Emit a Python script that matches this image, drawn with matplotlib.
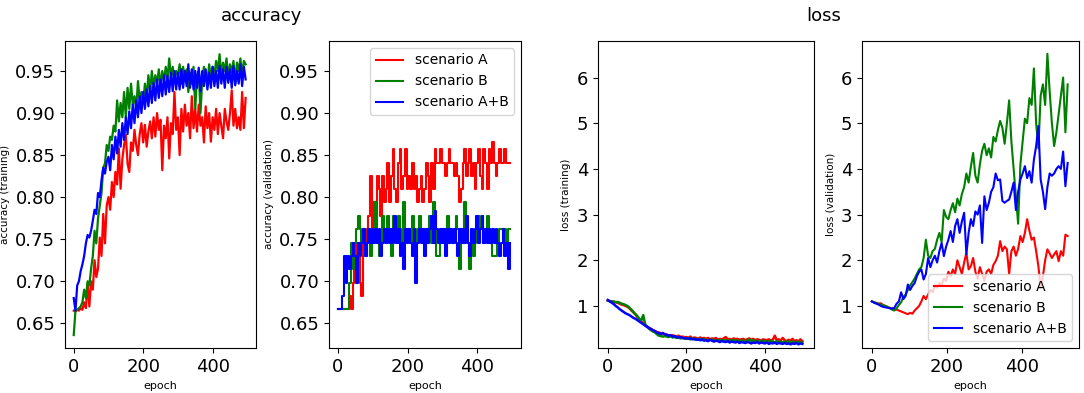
import numpy as np
import matplotlib
matplotlib.use('Agg')
import matplotlib.pyplot as plt

# Epochs (training curves logged every 5 epochs, validation loss every 6)
epochs = np.arange(0, 500, 5)
epochs_vl = np.arange(0, 527, 6)

labels = ['scenario A', 'scenario B', 'scenario A+B']
colors = ['red', 'green', 'blue']

# Accuracy (training)
acc_train_A = [0.665, 0.664, 0.666, 0.665, 0.668, 0.666, 0.675, 0.668, 0.697, 0.670,
               0.700, 0.690, 0.725, 0.705, 0.715, 0.752, 0.730, 0.780, 0.745, 0.790,
               0.800, 0.785, 0.818, 0.800, 0.830, 0.815, 0.858, 0.810, 0.845, 0.862,
               0.874, 0.840, 0.830, 0.865, 0.855, 0.880, 0.862, 0.850, 0.875, 0.888,
               0.865, 0.886, 0.860, 0.878, 0.890, 0.870, 0.895, 0.872, 0.900, 0.880,
               0.892, 0.832, 0.885, 0.870, 0.895, 0.846, 0.888, 0.875, 0.925, 0.880,
               0.895, 0.850, 0.905, 0.878, 0.910, 0.885, 0.900, 0.870, 0.920, 0.882,
               0.905, 0.878, 0.910, 0.885, 0.895, 0.865, 0.908, 0.882, 0.900, 0.866,
               0.895, 0.880, 0.905, 0.875, 0.900, 0.885, 0.870, 0.905, 0.890, 0.880,
               0.900, 0.927, 0.885, 0.905, 0.882, 0.895, 0.880, 0.925, 0.882, 0.918]
acc_train_B = [0.636, 0.665, 0.666, 0.668, 0.670, 0.675, 0.690, 0.680, 0.700, 0.695,
               0.715, 0.730, 0.760, 0.745, 0.775, 0.790, 0.805, 0.835, 0.840, 0.862,
               0.855, 0.872, 0.868, 0.885, 0.878, 0.915, 0.890, 0.912, 0.895, 0.925,
               0.895, 0.930, 0.905, 0.935, 0.910, 0.920, 0.905, 0.938, 0.915, 0.925,
               0.912, 0.935, 0.918, 0.945, 0.925, 0.950, 0.930, 0.945, 0.935, 0.952,
               0.932, 0.950, 0.938, 0.955, 0.940, 0.965, 0.942, 0.955, 0.938, 0.950,
               0.945, 0.958, 0.935, 0.955, 0.942, 0.952, 0.925, 0.948, 0.935, 0.955,
               0.905, 0.945, 0.950, 0.900, 0.940, 0.955, 0.945, 0.935, 0.958, 0.940,
               0.955, 0.945, 0.962, 0.950, 0.970, 0.945, 0.960, 0.950, 0.965, 0.942,
               0.958, 0.948, 0.962, 0.935, 0.960, 0.950, 0.965, 0.945, 0.962, 0.958]
acc_train_AB = [0.680, 0.665, 0.695, 0.700, 0.712, 0.720, 0.730, 0.745, 0.755, 0.752,
                0.760, 0.772, 0.785, 0.780, 0.805, 0.800, 0.820, 0.835, 0.828, 0.842,
                0.848, 0.832, 0.862, 0.845, 0.872, 0.852, 0.880, 0.860, 0.888, 0.868,
                0.895, 0.875, 0.902, 0.882, 0.910, 0.888, 0.915, 0.895, 0.920, 0.900,
                0.925, 0.905, 0.928, 0.908, 0.932, 0.912, 0.936, 0.915, 0.940, 0.918,
                0.940, 0.920, 0.945, 0.922, 0.944, 0.925, 0.948, 0.926, 0.950, 0.928,
                0.948, 0.928, 0.952, 0.930, 0.950, 0.932, 0.958, 0.930, 0.952, 0.928,
                0.950, 0.930, 0.954, 0.926, 0.950, 0.932, 0.952, 0.928, 0.948, 0.930,
                0.955, 0.932, 0.950, 0.930, 0.956, 0.935, 0.952, 0.930, 0.955, 0.936,
                0.952, 0.930, 0.956, 0.933, 0.950, 0.935, 0.958, 0.932, 0.955, 0.940]

# Accuracy (validation)
acc_val_A = [0.667, 0.667, 0.667, 0.667, 0.667, 0.667, 0.667, 0.683, 0.667, 0.698,
             0.714, 0.746, 0.730, 0.698, 0.683, 0.746, 0.730, 0.762, 0.778, 0.825,
             0.762, 0.794, 0.778, 0.825, 0.810, 0.778, 0.825, 0.794, 0.810, 0.841,
             0.794, 0.825, 0.857, 0.810, 0.794, 0.841, 0.857, 0.810, 0.825, 0.857,
             0.810, 0.825, 0.810, 0.841, 0.810, 0.825, 0.794, 0.810, 0.825, 0.794,
             0.810, 0.841, 0.825, 0.794, 0.841, 0.810, 0.857, 0.841, 0.841, 0.857,
             0.841, 0.841, 0.825, 0.841, 0.857, 0.841, 0.841, 0.825, 0.841, 0.825,
             0.794, 0.810, 0.841, 0.857, 0.825, 0.841, 0.857, 0.825, 0.841, 0.810,
             0.841, 0.857, 0.825, 0.810, 0.857, 0.841, 0.810, 0.857, 0.841, 0.865,
             0.841, 0.825, 0.841, 0.857, 0.841, 0.841, 0.857, 0.841, 0.841, 0.841]
acc_val_B = [0.667, 0.667, 0.667, 0.667, 0.667, 0.667, 0.667, 0.698, 0.746, 0.714,
             0.746, 0.762, 0.778, 0.762, 0.746, 0.762, 0.746, 0.746, 0.762, 0.730,
             0.762, 0.746, 0.794, 0.746, 0.730, 0.746, 0.778, 0.762, 0.746, 0.778,
             0.762, 0.730, 0.778, 0.762, 0.746, 0.778, 0.762, 0.746, 0.794, 0.762,
             0.746, 0.762, 0.746, 0.778, 0.762, 0.746, 0.762, 0.778, 0.762, 0.746,
             0.762, 0.746, 0.762, 0.778, 0.746, 0.794, 0.762, 0.730, 0.730, 0.746,
             0.762, 0.746, 0.762, 0.778, 0.746, 0.762, 0.746, 0.762, 0.778, 0.762,
             0.714, 0.762, 0.746, 0.794, 0.762, 0.746, 0.714, 0.746, 0.730, 0.746,
             0.762, 0.778, 0.762, 0.778, 0.746, 0.762, 0.778, 0.762, 0.746, 0.730,
             0.730, 0.730, 0.746, 0.762, 0.762, 0.762, 0.762, 0.746, 0.762, 0.762]
acc_val_AB = [0.667, 0.667, 0.667, 0.683, 0.730, 0.698, 0.730, 0.714, 0.730, 0.746,
              0.730, 0.698, 0.746, 0.730, 0.746, 0.762, 0.730, 0.746, 0.762, 0.746,
              0.762, 0.746, 0.762, 0.746, 0.762, 0.730, 0.746, 0.762, 0.746, 0.762,
              0.746, 0.762, 0.746, 0.778, 0.746, 0.762, 0.730, 0.746, 0.714, 0.762,
              0.746, 0.762, 0.746, 0.730, 0.762, 0.698, 0.746, 0.762, 0.746, 0.762,
              0.730, 0.762, 0.746, 0.762, 0.778, 0.746, 0.783, 0.762, 0.746, 0.762,
              0.746, 0.762, 0.730, 0.762, 0.746, 0.762, 0.746, 0.762, 0.746, 0.730,
              0.762, 0.746, 0.762, 0.746, 0.778, 0.746, 0.730, 0.762, 0.746, 0.762,
              0.778, 0.746, 0.762, 0.778, 0.746, 0.762, 0.746, 0.762, 0.746, 0.762,
              0.746, 0.762, 0.746, 0.730, 0.746, 0.762, 0.730, 0.746, 0.714, 0.746]

# Loss (training)
loss_train_A = [1.12, 1.11, 1.10, 1.09, 1.08, 1.07, 1.05, 1.03, 1.02, 1.00,
                0.98, 0.95, 0.90, 0.86, 0.82, 0.76, 0.70, 0.66, 0.62, 0.58,
                0.55, 0.52, 0.50, 0.47, 0.45, 0.43, 0.42, 0.40, 0.39, 0.38,
                0.37, 0.36, 0.35, 0.36, 0.34, 0.33, 0.35, 0.32, 0.33, 0.31,
                0.32, 0.30, 0.33, 0.29, 0.31, 0.30, 0.28, 0.31, 0.29, 0.30,
                0.28, 0.30, 0.27, 0.29, 0.28, 0.30, 0.26, 0.28, 0.27, 0.29,
                0.32, 0.27, 0.28, 0.26, 0.29, 0.27, 0.28, 0.26, 0.27, 0.28,
                0.25, 0.27, 0.29, 0.26, 0.28, 0.25, 0.27, 0.26, 0.24, 0.27,
                0.26, 0.25, 0.27, 0.24, 0.26, 0.35, 0.25, 0.27, 0.24, 0.30,
                0.25, 0.23, 0.26, 0.24, 0.28, 0.23, 0.25, 0.22, 0.27, 0.23]
loss_train_B = [1.12, 1.10, 1.09, 1.10, 1.08, 1.09, 1.07, 1.05, 1.04, 1.02,
                1.00, 0.96, 0.92, 0.87, 0.82, 0.78, 0.72, 0.68, 0.80, 0.60,
                0.55, 0.50, 0.47, 0.44, 0.42, 0.38, 0.35, 0.34, 0.33, 0.34,
                0.33, 0.32, 0.34, 0.31, 0.32, 0.30, 0.31, 0.29, 0.30, 0.29,
                0.28, 0.30, 0.27, 0.29, 0.27, 0.28, 0.26, 0.28, 0.25, 0.27,
                0.26, 0.24, 0.27, 0.25, 0.26, 0.24, 0.25, 0.23, 0.26, 0.24,
                0.25, 0.23, 0.24, 0.26, 0.23, 0.25, 0.24, 0.22, 0.25, 0.23,
                0.24, 0.22, 0.27, 0.23, 0.25, 0.22, 0.24, 0.23, 0.22, 0.24,
                0.22, 0.23, 0.21, 0.24, 0.22, 0.20, 0.23, 0.21, 0.22, 0.20,
                0.22, 0.21, 0.23, 0.20, 0.22, 0.21, 0.20, 0.22, 0.21, 0.20]
loss_train_AB = [1.13, 1.10, 1.07, 1.04, 1.00, 0.97, 0.93, 0.90, 0.87, 0.84,
                 0.82, 0.80, 0.77, 0.74, 0.72, 0.69, 0.66, 0.63, 0.60, 0.57,
                 0.54, 0.52, 0.49, 0.47, 0.45, 0.42, 0.40, 0.39, 0.41, 0.38,
                 0.37, 0.35, 0.36, 0.33, 0.34, 0.32, 0.31, 0.32, 0.30, 0.29,
                 0.30, 0.28, 0.29, 0.27, 0.28, 0.26, 0.27, 0.25, 0.27, 0.24,
                 0.25, 0.23, 0.26, 0.24, 0.22, 0.24, 0.23, 0.21, 0.23, 0.22,
                 0.21, 0.23, 0.20, 0.22, 0.21, 0.20, 0.22, 0.19, 0.21, 0.20,
                 0.19, 0.21, 0.20, 0.18, 0.20, 0.19, 0.21, 0.18, 0.20, 0.19,
                 0.18, 0.20, 0.17, 0.19, 0.18, 0.20, 0.17, 0.19, 0.18, 0.17,
                 0.19, 0.17, 0.18, 0.16, 0.18, 0.17, 0.19, 0.16, 0.18, 0.17]

# Loss (validation)
loss_val_A = [1.10, 1.08, 1.07, 1.05, 1.06, 1.02, 1.00, 0.98, 0.96, 0.95,
              0.93, 0.92, 0.90, 0.88, 0.86, 0.84, 0.82, 0.85, 0.83, 0.90,
              0.95, 1.00, 1.10, 1.22, 1.15, 1.25, 1.35, 1.30, 1.45, 1.40,
              1.50, 1.45, 1.60, 1.55, 1.75, 1.65, 1.80, 1.70, 2.00, 1.85,
              1.70, 1.95, 2.16, 1.80, 1.87, 2.05, 1.75, 1.60, 1.85, 1.70,
              1.55, 1.75, 1.80, 1.70, 1.90, 1.98, 2.10, 2.42, 2.20, 2.30,
              2.24, 1.70, 2.20, 2.30, 2.10, 2.25, 2.53, 2.40, 2.60, 2.90,
              2.65, 2.45, 2.50, 2.20, 1.87, 1.40, 1.65, 2.00, 2.24, 2.15,
              2.05, 2.13, 2.20, 1.98, 2.20, 2.10, 2.56, 2.53]
loss_val_B = [1.10, 1.08, 1.06, 1.05, 1.03, 1.02, 1.00, 0.98, 0.95, 0.92,
              0.90, 0.95, 1.02, 1.08, 1.20, 1.25, 1.35, 1.45, 1.52, 1.60,
              1.70, 1.80, 1.85, 2.05, 2.45, 2.10, 2.05, 2.20, 2.25, 2.45,
              2.60, 2.40, 3.10, 2.95, 2.90, 3.10, 3.25, 3.05, 3.35, 3.20,
              3.45, 3.60, 3.90, 3.70, 4.05, 4.35, 3.85, 3.70, 4.10, 4.40,
              4.55, 4.30, 4.45, 4.25, 4.70, 4.60, 4.85, 5.05, 4.90, 4.55,
              5.00, 5.50, 4.60, 4.00, 3.40, 2.80, 4.10, 4.60, 5.10, 5.00,
              5.55, 5.40, 6.20, 5.00, 4.45, 5.60, 5.85, 5.40, 6.52, 5.70,
              5.00, 4.50, 4.80, 5.20, 5.60, 6.00, 4.80, 5.85]
loss_val_AB = [1.10, 1.07, 1.05, 1.03, 1.00, 0.98, 0.97, 0.96, 0.95, 0.94,
               0.96, 1.05, 1.10, 1.30, 1.15, 1.22, 1.47, 1.35, 1.44, 1.50,
               1.65, 1.75, 1.80, 1.58, 1.70, 2.05, 1.85, 2.00, 2.10, 1.95,
               2.20, 2.38, 2.09, 2.30, 2.45, 2.64, 2.40, 2.75, 2.90, 2.60,
               2.85, 3.04, 2.13, 2.60, 2.90, 2.75, 3.07, 3.00, 3.20, 2.38,
               3.40, 3.10, 3.26, 3.50, 3.60, 3.90, 3.75, 3.77, 3.30, 3.26,
               3.30, 3.33, 3.50, 3.70, 3.10, 3.50, 3.77, 3.90, 4.06, 3.80,
               3.95, 3.70, 4.20, 4.50, 4.94, 3.77, 3.50, 3.12, 3.60, 3.90,
               3.85, 3.90, 4.00, 4.06, 4.00, 4.38, 3.62, 4.13]

fig = plt.figure(figsize=(10.84, 3.93), dpi=100)

# axes placed by hand to follow the original layout
ax1 = fig.add_axes([0.0600, 0.1145, 0.1762, 0.7812])
ax2 = fig.add_axes([0.3035, 0.1145, 0.1771, 0.7812])
ax3 = fig.add_axes([0.5517, 0.1145, 0.1993, 0.7812])
ax4 = fig.add_axes([0.7952, 0.1145, 0.2002, 0.7812])

for series, c, lab in zip([acc_train_A, acc_train_B, acc_train_AB], colors, labels):
    ax1.plot(epochs, series, color=c, linewidth=1.6, label=lab)
for series, c, lab in zip([acc_val_A, acc_val_B, acc_val_AB], colors, labels):
    ax2.plot(epochs, series, color=c, linewidth=1.5, label=lab, drawstyle='steps-mid')
for series, c, lab in zip([loss_train_A, loss_train_B, loss_train_AB], colors, labels):
    ax3.plot(epochs, series, color=c, linewidth=1.8, label=lab)
for series, c, lab in zip([loss_val_A, loss_val_B, loss_val_AB], colors, labels):
    ax4.plot(epochs_vl, series, color=c, linewidth=1.5, label=lab)

ax1.set_ylabel('accuracy (training)', fontsize=7.5)
ax2.set_ylabel('accuracy (validation)', fontsize=7.5)
ax3.set_ylabel('loss (training)', fontsize=7.5)
ax4.set_ylabel('loss (validation)', fontsize=7.5)

for ax in [ax1, ax2]:
    ax.set_ylim(0.6206, 0.9857)
    ax.set_yticks([0.65, 0.70, 0.75, 0.80, 0.85, 0.90, 0.95])
for ax in [ax3, ax4]:
    ax.set_ylim(0.08, 6.80)
    ax.set_yticks([1, 2, 3, 4, 5, 6])

for ax in [ax1, ax2, ax3]:
    ax.set_xlim(-25, 525)
ax4.set_xlim(-26.3, 552.3)

for ax in [ax1, ax2, ax3, ax4]:
    ax.set_xticks([0, 200, 400])
    ax.set_xlabel('epoch', fontsize=8)
    ax.tick_params(labelsize=13)

ax2.legend(loc='upper right', fontsize=10)
ax4.legend(loc='lower right', fontsize=10)

# Group titles
fig.text(0.241, 0.959, 'accuracy', ha='center', va='center', fontsize=13)
fig.text(0.760, 0.959, 'loss', ha='center', va='center', fontsize=13)

plt.savefig('out.png', dpi=100)
